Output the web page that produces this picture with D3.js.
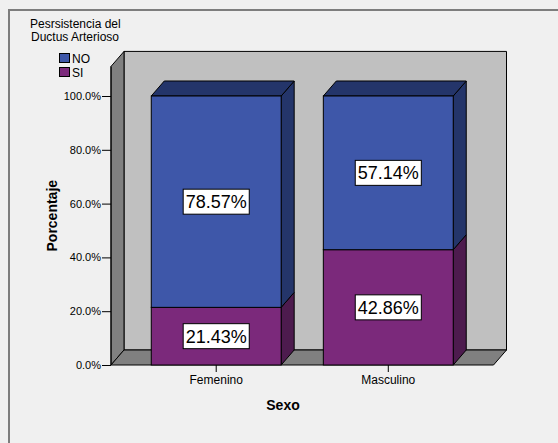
<!DOCTYPE html>
<html>
<head>
<meta charset="utf-8">
<script src="https://cdn.jsdelivr.net/npm/d3@7"></script>
<style>
  body { margin: 0; background: #f0f0f0; }
  svg { display: block; font-family: Arial, "Liberation Sans", sans-serif; }
</style>
</head>
<body>
<div id="chart"></div>
<script>
// categories and stacked shares (percent of each group)
const categories = ['Femenino', 'Masculino'];
const seriesNames = ['SI', 'NO'];
const siValues = [21.43, 42.86];
const noValues = [78.57, 57.14];
const yTickValues = [0, 20, 40, 60, 80, 100];

const colors = {
  SI: {front: '#7b297b', side: '#4d1b4e', top: '#5a1f5b'},
  NO: {front: '#3e57a9', side: '#24356a', top: '#24356a'}
};

const width = 558, height = 443;
// depth offset for the pseudo 3D look
const dx = 13, dy = -15;

const svg = d3.select('#chart').append('svg')
  .attr('width', width)
  .attr('height', height);

// outer frame
svg.append('rect')
  .attr('x', 9).attr('y', 10)
  .attr('width', 600).attr('height', 500)
  .attr('fill', '#f0f0f0')
  .attr('stroke', '#7d7d7d')
  .attr('stroke-width', 2);

const y = d3.scaleLinear().domain([0, 100]).range([365, 96]);
const x = d3.scaleBand().domain(categories)
  .range([111, 493.5])
  .paddingInner(0.245)
  .paddingOuter(0.234);

const left = x.range()[0], right = x.range()[1];
const floorY = y(0), wallTop = y(111);

const pts = a => a.map(p => p.join(',')).join(' ');

// back wall, left wall, floor
svg.append('polygon')
  .attr('points', pts([[left + dx, wallTop + dy], [right + dx, wallTop + dy], [right + dx, floorY + dy], [left + dx, floorY + dy]]))
  .attr('fill', '#c0c0c0').attr('stroke', '#000').attr('stroke-width', 1);
svg.append('polygon')
  .attr('points', pts([[left, wallTop], [left + dx, wallTop + dy], [left + dx, floorY + dy], [left, floorY]]))
  .attr('fill', '#808080').attr('stroke', '#000').attr('stroke-width', 1);
svg.append('polygon')
  .attr('points', pts([[left, floorY], [left + dx, floorY + dy], [right + dx, floorY + dy], [right, floorY]]))
  .attr('fill', '#808080').attr('stroke', '#000').attr('stroke-width', 1);

// stacked bars
const stackData = categories.map((c, i) => ({cat: c, SI: siValues[i], NO: noValues[i]}));
const stacked = d3.stack().keys(seriesNames)(stackData);

const bars = svg.append('g');
stacked.forEach((layer, li) => {
  const name = layer.key;
  layer.forEach(d => {
    const x0 = x(d.data.cat), x1 = x0 + x.bandwidth();
    const yTop = y(d[1]), yBot = y(d[0]);
    const g = bars.append('g');
    // right side face
    g.append('polygon')
      .attr('points', pts([[x1, yBot], [x1, yTop], [x1 + dx, yTop + dy], [x1 + dx, yBot + dy]]))
      .attr('fill', colors[name].side).attr('stroke', '#000').attr('stroke-width', 1);
    // top face on the last segment
    if (li === stacked.length - 1) {
      g.append('polygon')
        .attr('points', pts([[x0, yTop], [x0 + dx, yTop + dy], [x1 + dx, yTop + dy], [x1, yTop]]))
        .attr('fill', colors[name].top).attr('stroke', '#000').attr('stroke-width', 1);
    }
    g.append('rect')
      .attr('x', x0).attr('y', yTop)
      .attr('width', x1 - x0).attr('height', yBot - yTop)
      .attr('fill', colors[name].front)
      .attr('stroke', '#000').attr('stroke-width', 1);
  });
});

// value labels in white boxes
stacked.forEach(layer => {
  layer.forEach(d => {
    const val = d[1] - d[0];
    const cx = x(d.data.cat) + x.bandwidth() / 2;
    const cy = (y(d[0]) + y(d[1])) / 2;
    const lbl = svg.append('g');
    const t = lbl.append('text')
      .attr('x', cx).attr('y', cy + 6.5)
      .attr('text-anchor', 'middle')
      .attr('font-size', 18)
      .attr('fill', '#000')
      .text(val.toFixed(2) + '%');
    const bb = t.node().getBBox();
    lbl.insert('rect', 'text')
      .attr('x', cx - bb.width / 2 - 2.5).attr('y', cy - 12.5)
      .attr('width', bb.width + 5).attr('height', 25)
      .attr('fill', '#fff').attr('stroke', '#000').attr('stroke-width', 1);
  });
});

// y axis
const yAxis = d3.axisLeft(y)
  .tickValues(yTickValues)
  .tickSize(9)
  .tickPadding(1)
  .tickFormat(d => d.toFixed(1) + '%');
const gy = svg.append('g')
  .attr('transform', `translate(${left},0)`)
  .call(yAxis);
gy.select('.domain').remove();
gy.selectAll('text').attr('font-size', 11).attr('fill', '#000').attr('font-family', null);
gy.selectAll('line').attr('stroke', '#000');
svg.append('line')
  .attr('x1', left).attr('x2', left)
  .attr('y1', wallTop).attr('y2', floorY)
  .attr('stroke', '#000');

// x axis
const xAxis = d3.axisBottom(x).tickSize(7).tickPadding(3);
const gx = svg.append('g')
  .attr('transform', `translate(0,${floorY})`)
  .call(xAxis);
gx.select('.domain').remove();
gx.selectAll('text').attr('font-size', 12).attr('fill', '#000').attr('font-family', null);
gx.selectAll('line').attr('stroke', '#000');

// axis titles
svg.append('text')
  .attr('x', 283).attr('y', 410)
  .attr('text-anchor', 'middle')
  .attr('font-size', 14).attr('font-weight', 'bold')
  .text('Sexo');
svg.append('text')
  .attr('transform', `translate(57,${(floorY + wallTop) / 2}) rotate(-90)`)
  .attr('text-anchor', 'middle')
  .attr('font-size', 14).attr('font-weight', 'bold')
  .text('Porcentaje');

// legend
const legend = svg.append('g');
legend.append('text').attr('x', 30).attr('y', 28).attr('font-size', 12).text('Pesrsistencia del');
legend.append('text').attr('x', 31).attr('y', 41).attr('font-size', 12).text('Ductus Arterioso');
['NO', 'SI'].forEach((k, i) => {
  legend.append('rect')
    .attr('x', 59.5).attr('y', 53.5 + i * 14)
    .attr('width', 10).attr('height', 9)
    .attr('fill', colors[k].front).attr('stroke', '#000').attr('stroke-width', 1);
  legend.append('text')
    .attr('x', 72).attr('y', 62.5 + i * 14)
    .attr('font-size', 12)
    .text(k);
});
</script>
</body>
</html>
